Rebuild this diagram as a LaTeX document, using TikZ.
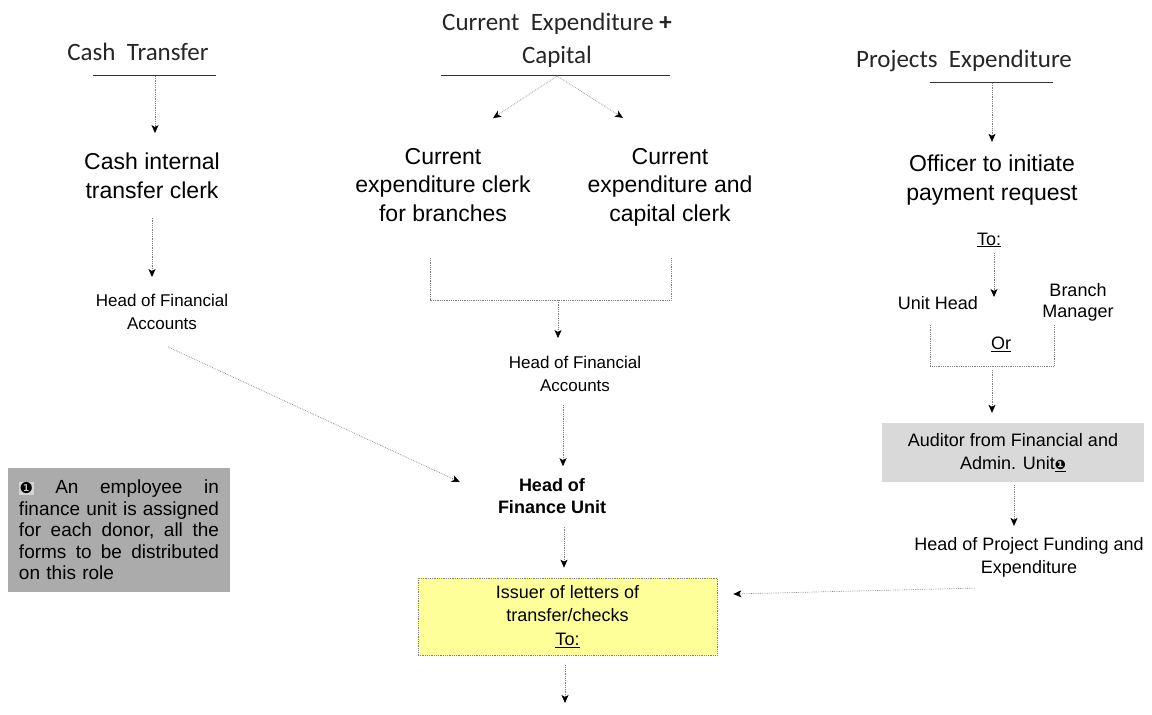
\documentclass[tikz,border=0pt]{standalone}
\usepackage{fontspec}
\setmainfont{Liberation Sans}
\newfontfamily\headfont{Carlito}
\newfontfamily\symfont{DejaVu Sans}
\usetikzlibrary{arrows.meta}

\definecolor{linkgray}{HTML}{808080}
\definecolor{notegray}{HTML}{ABABAB}
\definecolor{chipgray}{HTML}{D4D4D4}
\definecolor{auditgray}{HTML}{D9D9D9}
\definecolor{issueyellow}{HTML}{FFFF99}

% circled marker used for the note and the auditor box
\newcommand{\notemark}{{\symfont\fontsize{15}{15}\selectfont ❶}}
% a justified line of the side note: words spread over the full width
\newcommand{\spreadline}[1]{\makebox[200pt][l]{#1}}

\tikzset{
  hd/.style={font=\headfont\fontsize{25}{33}\selectfont, text=black!85, align=center, inner sep=0pt},
  big/.style={font=\fontsize{23}{28.5}\selectfont, align=center, inner sep=0pt},
  sm/.style={font=\fontsize{18}{22.5}\selectfont, align=center, inner sep=0pt},
  acc/.style={font=\fontsize{17}{23}\selectfont, align=center, inner sep=0pt},
  rule/.style={draw=black!80, line width=0.9pt},
  link/.style={draw=linkgray, line width=0.7pt, dash pattern=on 0.7pt off 1.1pt},
  flow/.style={link, -{Stealth[length=8pt, width=7pt, inset=2pt, color=black]}},
  issuebox/.style={sm, font=\fontsize{18}{23.5}\selectfont, fill=issueyellow, draw=linkgray,
    line width=0.7pt, dash pattern=on 0.7pt off 1.1pt, minimum width=299pt, minimum height=77pt},
  auditbox/.style={sm, font=\fontsize{18}{23}\selectfont, fill=auditgray, minimum width=262pt, minimum height=59pt},
  notebox/.style={font=\fontsize{19}{21.5}\selectfont, fill=notegray, align=left, text width=200pt,
    inner sep=0pt, minimum width=222pt, minimum height=124pt}
}

\begin{document}
\begin{tikzpicture}[x=1pt, y=-1pt]
\useasboundingbox (0,0) rectangle (1152,715);

% ---------------- cash transfer column ----------------
\node[hd] (cashHd) at (138,52) {Cash\ \ Transfer};
\coordinate (cashRuleL) at (93,75);
\coordinate (cashRuleR) at (216,75);
\coordinate (cashDrop) at (155,76);
\draw[rule] (cashRuleL) -- (cashRuleR);

\node[big] (cashClerk) at (152,176) {Cash internal\\transfer clerk};
\node[acc] (accCash) at (162,312) {Head of Financial\\Accounts};

\draw[flow, shorten >=20pt] (cashDrop) -- (cashDrop |- cashClerk.north);
\draw[flow, shorten <=19pt, shorten >=17pt] (cashClerk.south) -- (cashClerk.south |- accCash.north);

% ---------------- current expenditure column ----------------
\node[hd] (ceHd) at (557,40) {Current\ \ Expenditure {\bfseries+}\\Capital};
\coordinate (ceRuleL) at (441,75);
\coordinate (ceRuleR) at (670,75);
\coordinate (ceDrop) at (557,76);
\draw[rule] (ceRuleL) -- (ceRuleR);

\node[big] (ceBranch) at (443,185) {Current\\expenditure clerk\\for branches};
\node[big] (ceCapital) at (670,187) {Current\\expenditure and\\capital clerk};

\draw[flow] (ceDrop) -- ([shift={(50,-30)}]ceBranch.north);
\draw[flow] (ceDrop) -- ([shift={(-47,-30)}]ceCapital.north);

\coordinate (ceBrL) at (430,258);
\coordinate (ceBrR) at (671,258);
\coordinate (ceJoin) at (558,300);
\draw[link] (ceBrL) |- (ceJoin) -| (ceBrR);

\node[acc] (accMid) at (575,374) {Head of Financial\\Accounts};
\draw[flow, shorten >=18pt] (ceJoin) -- (ceJoin |- accMid.north);

\node[font=\bfseries\fontsize{18}{22}\selectfont, align=center, inner sep=0pt] (hfu) at (552,496) {Head of\\Finance Unit};
\draw[flow, shorten <=13pt, shorten >=12pt] ([xshift=-12pt]accMid.south) -- ([xshift=-12pt]accMid.south |- hfu.north);

\draw[flow] ([shift={(6,17)}]accCash.south) -- ([shift={(-38,-14)}]hfu.west);

\node[issuebox] (issuer) at (567.5,616.5) {Issuer of letters of\\transfer/checks\\\underline{To:}};
\draw[flow, shorten <=13pt, shorten >=10pt] ([xshift=12pt]hfu.south) -- ([xshift=12pt]hfu.south |- issuer.north);

\coordinate (issuerOut) at (565,703);
\draw[flow, shorten <=10pt] (issuer.south -| issuerOut) -- (issuerOut);

% ---------------- projects expenditure column ----------------
\node[hd] (projHd) at (964,61) {Projects\ \ Expenditure};
\coordinate (projRuleL) at (930,82);
\coordinate (projRuleR) at (1053,82);
\coordinate (projDrop) at (992,83);
\draw[rule] (projRuleL) -- (projRuleR);

\node[big] (officer) at (992,180) {Officer to initiate\\payment request};
\draw[flow, shorten >=13pt] (projDrop) -- (projDrop |- officer.north);

\node[sm] (toA) at (989,240) {\underline{To:}};
\coordinate (orTop) at (994,297);
\draw[flow, shorten <=6pt] (toA.south -| orTop) -- (orTop);

\node[sm] (unitHead) at (938,303) {Unit Head};
\node[sm, font=\fontsize{18}{21}\selectfont] (branchMgr) at (1078,302) {Branch\\Manager};

\coordinate (orL) at (930,325);
\coordinate (orR) at (1054,325);
\coordinate (orJoin) at (992,366);
\draw[link] (orL) |- (orJoin) -| (orR);
\node[sm] (orLbl) at (1001,344) {\underline{Or}};

\node[auditbox] (auditor) at (1013,452.5) {Auditor from Financial and\\Admin. Unit{\symfont\bfseries\fontsize{13}{13}\selectfont\underline{❶}}};
\draw[flow, shorten <=4pt, shorten >=10pt] (orJoin) -- (orJoin |- auditor.north);

\node[sm, font=\fontsize{18}{23}\selectfont] (hpf) at (1029,557) {Head of Project Funding and\\Expenditure};
\draw[flow, shorten <=3pt, shorten >=11pt] ([xshift=1pt]auditor.south) -- ([xshift=1pt]auditor.south |- hpf.north);

\draw[flow] ([shift={(-54,11)}]hpf.south) -- ([shift={(16,-22.5)}]issuer.east);

% ---------------- side note ----------------
\node[notebox] (note) at (119,530) {%
  \spreadline{{\setlength{\fboxsep}{0.6pt}\colorbox{chipgray}{\notemark}}\hfill An\hfill employee\hfill in}\\
  \spreadline{finance\hfill unit\hfill is\hfill assigned}\\
  \spreadline{for\hfill each\hfill donor,\hfill all\hfill the}\\
  \spreadline{forms\hfill to\hfill be\hfill distributed}\\
  on this role};

\end{tikzpicture}
\end{document}
